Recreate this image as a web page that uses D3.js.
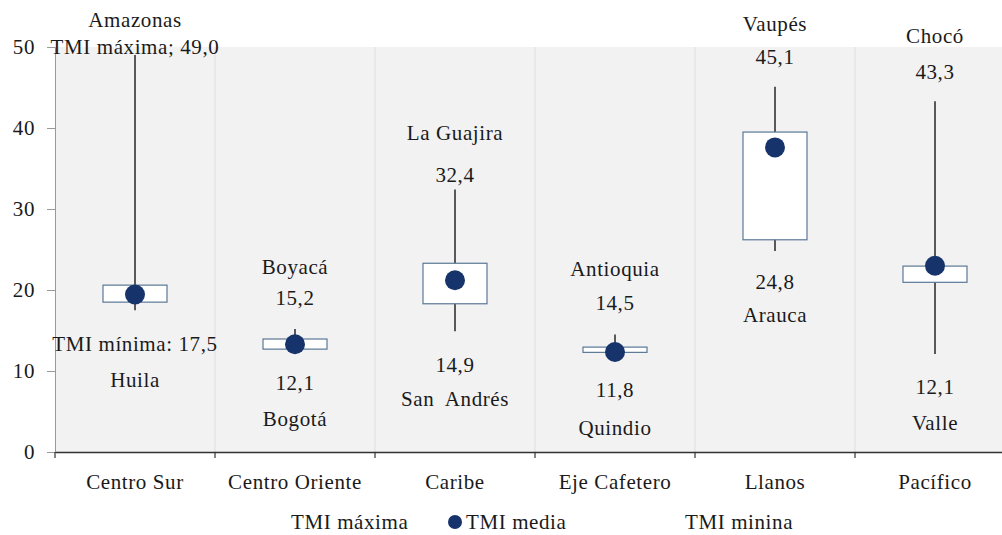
<!DOCTYPE html>
<html>
<head>
<meta charset="utf-8">
<script src="https://cdn.jsdelivr.net/npm/d3@7"></script>
<style>
  body { margin: 0; background: #fff; }
</style>
</head>
<body>
<svg id="chart"></svg>
<script>
// data
const regions  = ["Centro Sur", "Centro Oriente", "Caribe", "Eje Cafetero", "Llanos", "Pacífico"];
const tmiMax   = [49.0, 15.2, 32.4, 14.5, 45.1, 43.3];
const tmiMin   = [17.5, 12.1, 14.9, 11.8, 24.8, 12.1];
const tmiMedia = [19.45, 13.3, 21.2, 12.35, 37.6, 23.0];
const boxHigh  = [20.6, 13.95, 23.3, 12.95, 39.5, 22.95];
const boxLow   = [18.5, 12.7, 18.3, 12.3, 26.2, 20.95];
const maxDept  = ["Amazonas", "Boyacá", "La Guajira", "Antioquia", "Vaupés", "Chocó"];
const minDept  = ["Huila", "Bogotá", "San  Andrés", "Quindio", "Arauca", "Valle"];
const maxText  = ["TMI máxima; 49,0", "15,2", "32,4", "14,5", "45,1", "43,3"];
const minText  = ["TMI mínima: 17,5", "12,1", "14,9", "11,8", "24,8", "12,1"];
const yTicks   = [0, 10, 20, 30, 40, 50];
const legendItems = ["TMI máxima", "TMI media", "TMI minina"];

// label offsets (px) from the whisker ends, as placed in the original
const upOff   = [[-8, -35], [-31, -62], [-15, -57], [-32, -66], [-30, -63], [-30, -66]];
const downOff = [[33, 69], [29, 65], [33, 67], [33, 71], [31, 64], [33, 69]];

const FONT = "Liberation Serif";
const FS = 21;
const LS = "0.6px";

const width = 1002, height = 535;
const margin = {top: 47, right: 0, bottom: 83, left: 55};
const plotRight = 1015;

const svg = d3.select("#chart").attr("width", width).attr("height", height);

const x = d3.scaleBand().domain(regions).range([margin.left, plotRight]).padding(0);
const y = d3.scaleLinear().domain([0, 50]).range([height - margin.bottom, margin.top]);

const rows = regions.map((r, i) => ({
  region: r, max: tmiMax[i], min: tmiMin[i], mean: tmiMedia[i],
  hi: boxHigh[i], lo: boxLow[i],
  maxDept: maxDept[i], minDept: minDept[i], maxText: maxText[i], minText: minText[i],
  up: upOff[i], down: downOff[i]
}));

function styleText(sel) {
  sel.style("font-family", FONT).style("font-size", FS + "px")
    .style("letter-spacing", LS).style("fill", "#1a1a1a");
}

// plot background
svg.append("rect")
  .attr("x", margin.left).attr("y", y(50))
  .attr("width", plotRight - margin.left).attr("height", y(0) - y(50))
  .attr("fill", "#f2f2f2");

// vertical separators
svg.append("g").selectAll("line")
  .data(regions.slice(1))
  .join("line")
  .attr("x1", d => x(d)).attr("x2", d => x(d))
  .attr("y1", y(50)).attr("y2", y(0))
  .attr("stroke", "#e0e0e0").attr("stroke-width", 1);

// y axis
const yAxis = svg.append("g")
  .attr("transform", `translate(${margin.left},0)`)
  .call(d3.axisLeft(y).tickValues(yTicks).tickSize(8).tickPadding(12).tickFormat(d3.format("d")));
yAxis.attr("font-family", null);
yAxis.select(".domain").attr("stroke", "#999");
yAxis.selectAll(".tick line").attr("stroke", "#999");
yAxis.selectAll(".tick text").call(styleText);

// x axis
const xAxis = svg.append("g")
  .attr("transform", `translate(0,${y(0)})`)
  .call(d3.axisBottom(x).tickSize(0).tickPadding(22).tickSizeOuter(0));
xAxis.attr("font-family", null);
xAxis.select(".domain").attr("stroke", "#333").attr("stroke-width", 1.5);
xAxis.selectAll(".tick text").call(styleText);
xAxis.selectAll(".bound")
  .data(regions)
  .join("line")
  .attr("class", "bound")
  .attr("x1", d => x(d)).attr("x2", d => x(d))
  .attr("y1", 0).attr("y2", 6)
  .attr("stroke", "#333").attr("stroke-width", 1.2);

const cx = d => x(d.region) + x.bandwidth() / 2;
const boxW = x.bandwidth() * 0.4;

const g = svg.append("g");

// whiskers
g.selectAll(".whisker")
  .data(rows)
  .join("line")
  .attr("class", "whisker")
  .attr("x1", cx).attr("x2", cx)
  .attr("y1", d => y(d.max)).attr("y2", d => y(d.min))
  .attr("stroke", "#262626").attr("stroke-width", 1.5);

// boxes
g.selectAll(".box")
  .data(rows)
  .join("rect")
  .attr("class", "box")
  .attr("x", d => cx(d) - boxW / 2)
  .attr("y", d => y(d.hi))
  .attr("width", boxW)
  .attr("height", d => y(d.lo) - y(d.hi))
  .attr("fill", "#fff")
  .attr("stroke", "#5a7896").attr("stroke-width", 1.2);

// mean dots
g.selectAll(".mean")
  .data(rows)
  .join("circle")
  .attr("class", "mean")
  .attr("cx", cx).attr("cy", d => y(d.mean))
  .attr("r", 10)
  .attr("fill", "#17336b");

// labels above max / below min
const lab = svg.append("g").attr("text-anchor", "middle");
lab.selectAll(".maxv")
  .data(rows).join("text").attr("class", "maxv")
  .attr("x", cx).attr("y", d => y(d.max) + d.up[0])
  .attr("dy", "0.35em")
  .call(styleText)
  .text(d => d.maxText);
lab.selectAll(".maxd")
  .data(rows).join("text").attr("class", "maxd")
  .attr("x", cx).attr("y", d => y(d.max) + d.up[1])
  .attr("dy", "0.35em")
  .call(styleText)
  .text(d => d.maxDept);
lab.selectAll(".minv")
  .data(rows).join("text").attr("class", "minv")
  .attr("x", cx).attr("y", d => y(d.min) + d.down[0])
  .attr("dy", "0.35em")
  .call(styleText)
  .text(d => d.minText);
lab.selectAll(".mind")
  .data(rows).join("text").attr("class", "mind")
  .attr("x", cx).attr("y", d => y(d.min) + d.down[1])
  .attr("dy", "0.35em")
  .style("white-space", "pre")
  .call(styleText)
  .text(d => d.minDept);

// legend
const legX = [291, 466, 685];
const leg = svg.append("g");
leg.selectAll("text")
  .data(legendItems).join("text")
  .attr("x", (d, i) => legX[i]).attr("y", 522)
  .attr("dy", "0.35em")
  .call(styleText)
  .text(d => d);
leg.append("circle")
  .attr("cx", 455).attr("cy", 522).attr("r", 7)
  .attr("fill", "#17336b");
</script>
</body>
</html>
